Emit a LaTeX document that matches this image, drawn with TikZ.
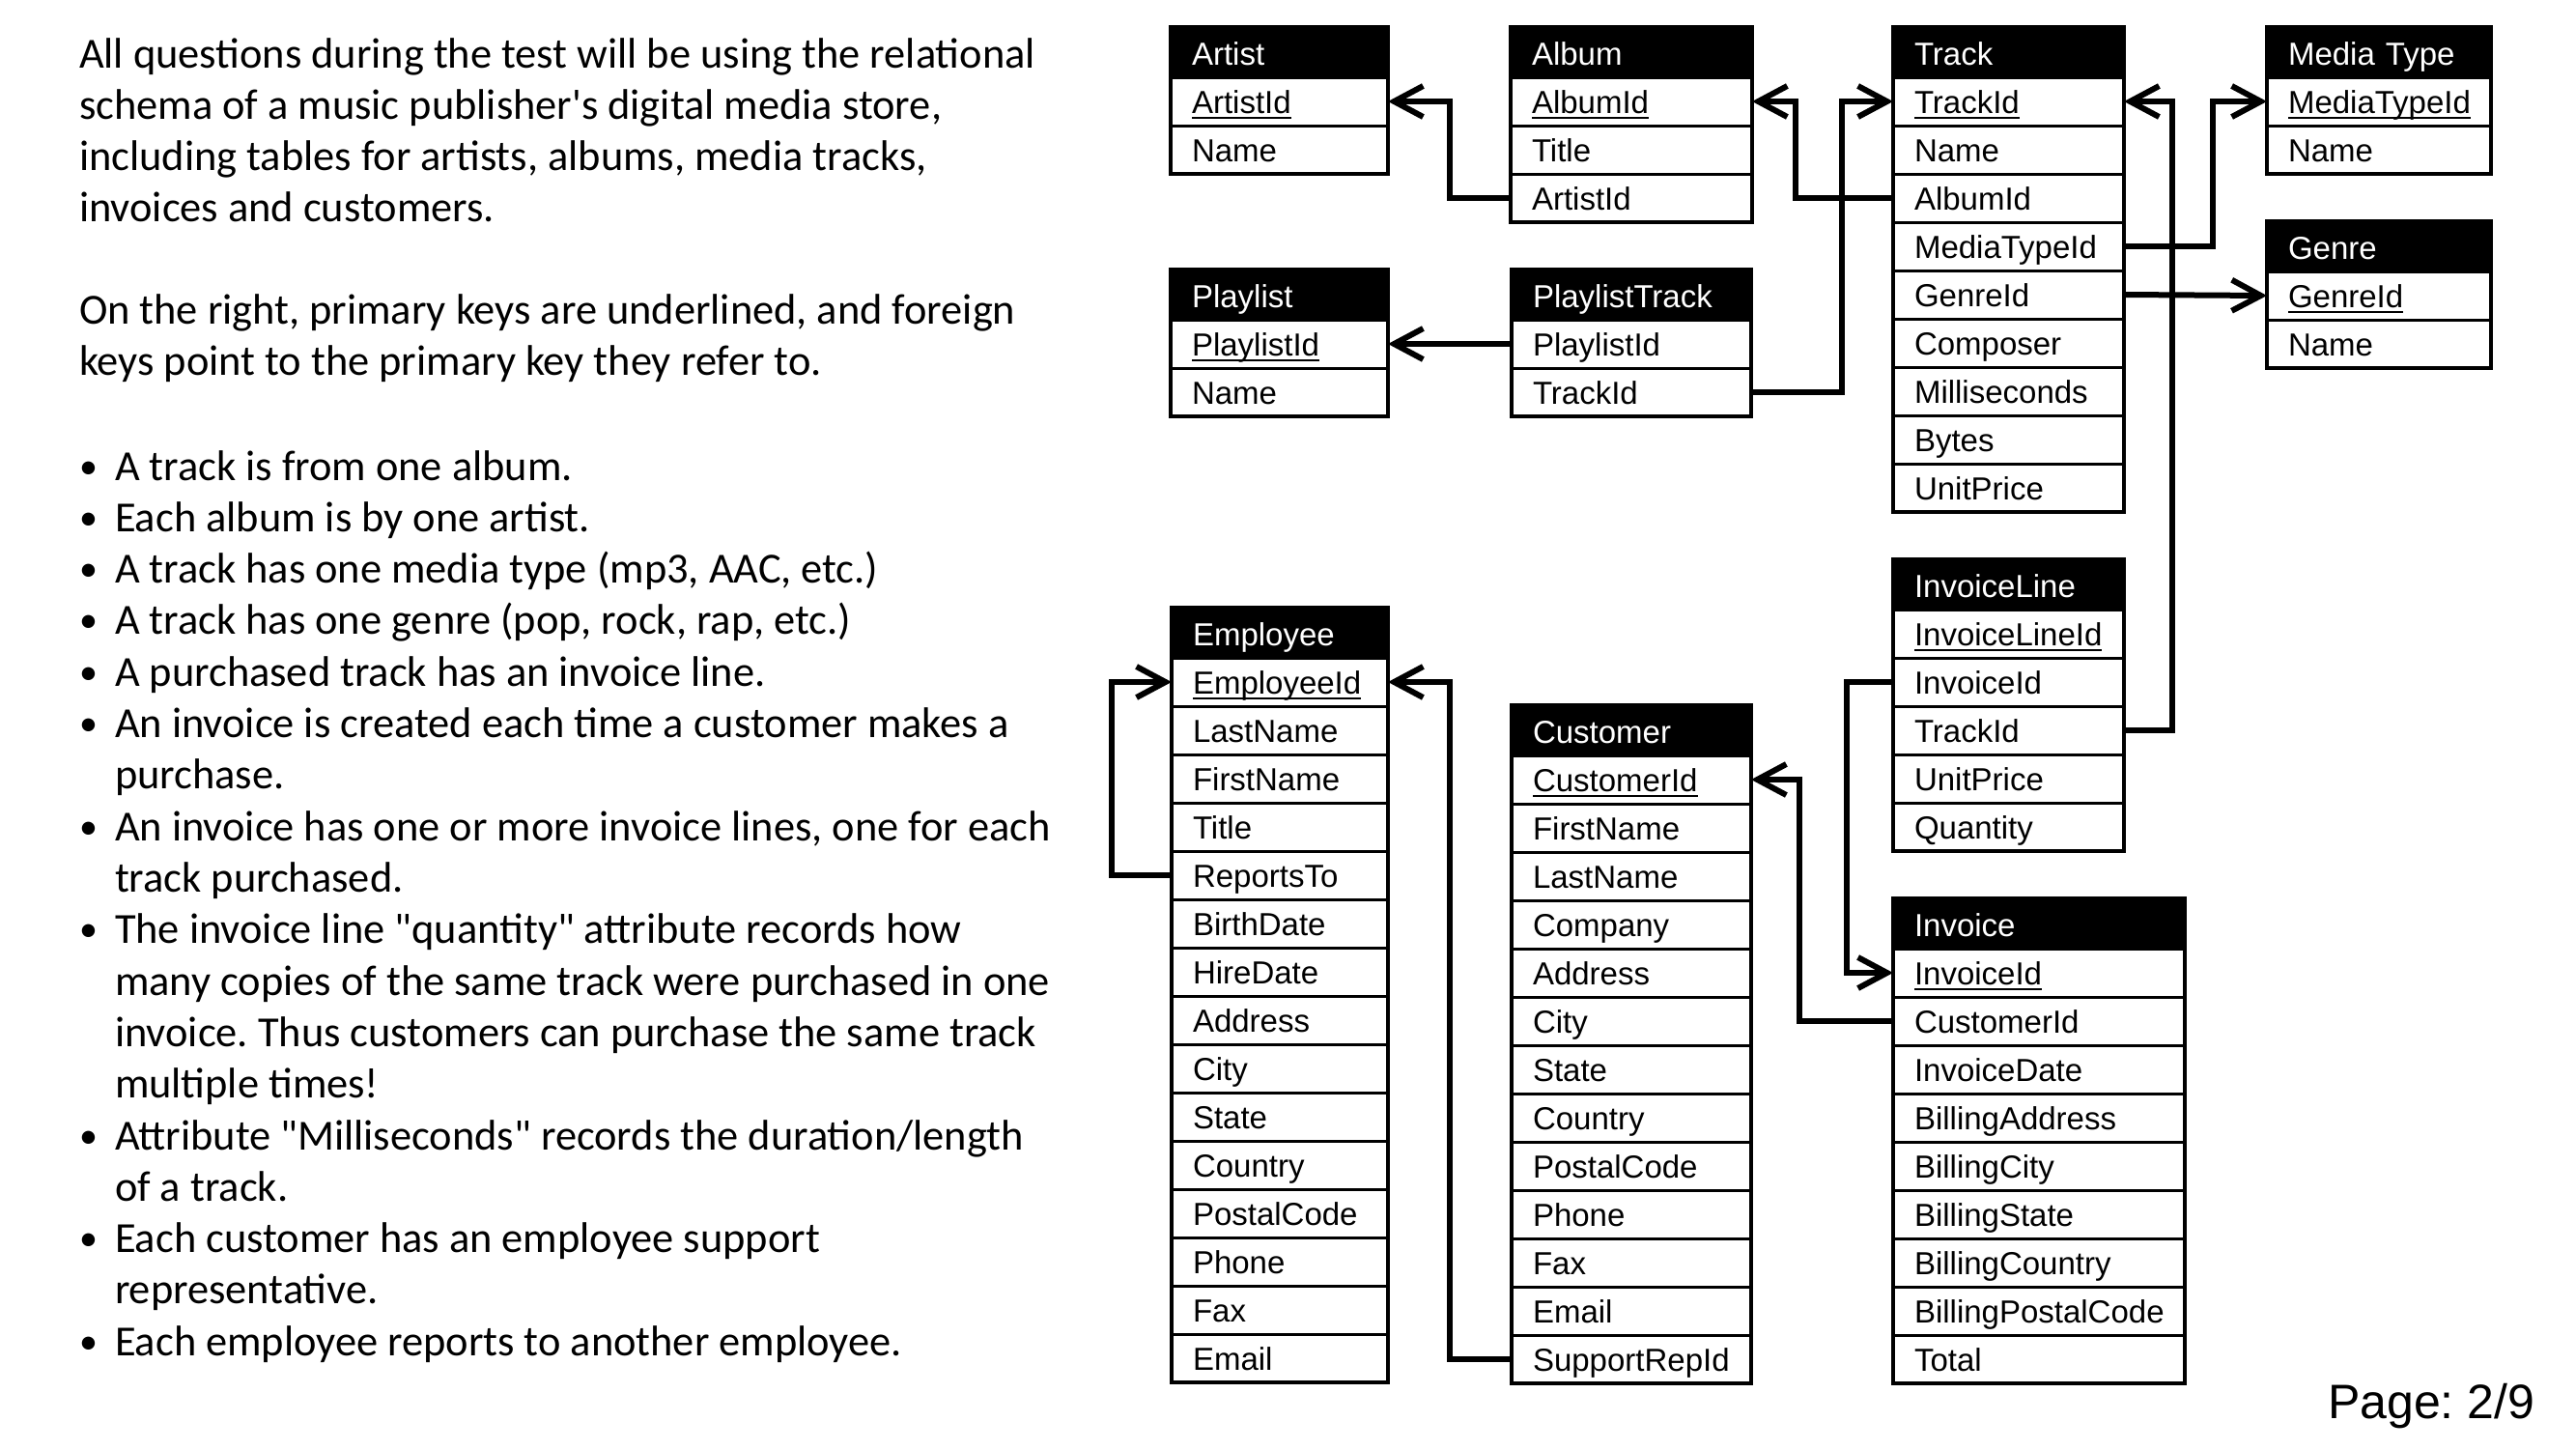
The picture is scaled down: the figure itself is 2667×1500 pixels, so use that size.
\documentclass[tikz,border=0pt]{standalone}
\usepackage{fontspec}
\usetikzlibrary{arrows.meta}
\newfontfamily\tabfont{Liberation Sans}
\newfontfamily\txtfont{Carlito}
\frenchspacing
\newcommand\pkey[1]{\setbox0\hbox{#1}\rlap{\rule[-6pt]{\wd0}{2.5pt}}\box0}
% #1 id, #2 left, #3 top, #4 width, #5 title, #6 rows, #7 row count
\newcommand\dbtable[7]{%
  \pgfmathsetmacro\tabtw{#4-44}%
  \node[hdr, text width=\tabtw pt, minimum width=#4pt, anchor=north west] (#1) at (#2,#3) {#5};
  \foreach \rowtxt [count=\i] in {#6} {
    \node[rowbox, text width=\tabtw pt, minimum width=#4pt, anchor=north west] (#1-\i) at ({#2},{#3+52+50*(\i-1)}) {\rowtxt};
  }
  \draw[tabborder] (#1.north west) rectangle (#1-#7.south east);
}
\tikzset{
  hdr/.style={draw=black, fill=black, text=white, line width=3pt, minimum height=52pt,
    inner xsep=22pt, inner ysep=0pt, outer sep=0pt, text height=31pt, text depth=5pt,
    align=left, font=\tabfont\fontsize{33}{40}\selectfont},
  rowbox/.style={draw=black, fill=white, line width=3pt, minimum height=50pt,
    inner xsep=22pt, inner ysep=0pt, outer sep=0pt, text height=30pt, text depth=6pt,
    align=left, font=\tabfont\fontsize{33}{40}\selectfont},
  tabborder/.style={draw=black, line width=3.5pt},
  fk/.style={line width=6pt, -{Straight Barb[length=30pt,width=32pt]}},
  txt/.style={anchor=base west, inner sep=0pt, outer sep=0pt,
    font=\txtfont\fontsize{44.4}{53.3}\selectfont},
  dot/.style={anchor=base west, inner sep=0pt, outer sep=0pt,
    font=\txtfont\fontsize{38}{53.3}\selectfont},
}
\begin{document}
\begin{tikzpicture}[x=1pt, y=-1pt]
\path[use as bounding box, fill=white] (0,0) rectangle (2667,1500);

% ---------- left text ----------
\node[txt] (intro) at (82,70) {\parbox[t]{1200pt}{All questions during the test will be using the relational\\schema of a music publisher's digital media store,\\including tables for artists, albums, media tracks,\\invoices and customers.}};
\node[txt] (keys) at (82,335) {\parbox[t]{1200pt}{On the right, primary keys are underlined, and foreign\\keys point to the primary key they refer to.}};

\node[dot] (d1) at (82,495) {•};
\node[txt] (b1) at (119,497) {A track is from one album.};
\node[dot] (d2) at (82,548.3) {•};
\node[txt] (b2) at (119,550.3) {Each album is by one artist.};
\node[dot] (d3) at (82,601.6) {•};
\node[txt] (b3) at (119,603.6) {A track has one media type (mp3, AAC, etc.)};
\node[dot] (d4) at (82,654.9) {•};
\node[txt] (b4) at (119,656.9) {A track has one genre (pop, rock, rap, etc.)};
\node[dot] (d5) at (82,708.2) {•};
\node[txt] (b5) at (119,710.2) {A purchased track has an invoice line.};
\node[dot] (d6) at (82,761.5) {•};
\node[txt] (b6) at (119,763.5) {\parbox[t]{1200pt}{An invoice is created each time a customer makes a\\purchase.}};
\node[dot] (d7) at (82,868.1) {•};
\node[txt] (b7) at (119,870.1) {\parbox[t]{1200pt}{An invoice has one or more invoice lines, one for each\\track purchased.}};
\node[dot] (d8) at (82,974.7) {•};
\node[txt] (b8) at (119,976.7) {\parbox[t]{1200pt}{The invoice line "quantity" attribute records how\\many copies of the same track were purchased in one\\invoice. Thus customers can purchase the same track\\multiple times!}};
\node[dot] (d9) at (82,1188) {•};
\node[txt] (b9) at (119,1190) {\parbox[t]{1200pt}{Attribute "Milliseconds" records the duration/length\\of a track.}};
\node[dot] (d10) at (82,1294.5) {•};
\node[txt] (b10) at (119,1296.5) {\parbox[t]{1200pt}{Each customer has an employee support\\representative.}};
\node[dot] (d11) at (82,1401.1) {•};
\node[txt] (b11) at (119,1403.1) {Each employee reports to another employee.};

% ---------- tables ----------
\dbtable{artist}{1212}{28}{225}{Artist}{\pkey{ArtistId},Name}{2}
\dbtable{album}{1564}{28}{250}{Album}{\pkey{AlbumId},Title,ArtistId}{3}
\dbtable{track}{1960}{28}{239}{Track}{\pkey{TrackId},Name,AlbumId,MediaTypeId,GenreId,Composer,Milliseconds,Bytes,UnitPrice}{9}
\dbtable{mediatype}{2347}{28}{232}{Media Type}{\pkey{MediaTypeId},Name}{2}
\dbtable{genre}{2347}{229}{232}{Genre}{\pkey{GenreId},Name}{2}
\dbtable{playlist}{1212}{279}{225}{Playlist}{\pkey{PlaylistId},Name}{2}
\dbtable{playlisttrack}{1565}{279}{248}{PlaylistTrack}{PlaylistId,TrackId}{2}
\dbtable{invoiceline}{1960}{579}{239}{InvoiceLine}{\pkey{InvoiceLineId},InvoiceId,TrackId,UnitPrice,Quantity}{5}
\dbtable{employee}{1213}{629}{224}{Employee}{\pkey{EmployeeId},LastName,FirstName,Title,ReportsTo,BirthDate,HireDate,Address,City,State,Country,PostalCode,Phone,Fax,Email}{15}
\dbtable{customer}{1565}{730}{248}{Customer}{\pkey{CustomerId},FirstName,LastName,Company,Address,City,State,Country,PostalCode,Phone,Fax,Email,SupportRepId}{13}
\dbtable{invoice}{1960}{930}{302}{Invoice}{\pkey{InvoiceId},CustomerId,InvoiceDate,BillingAddress,BillingCity,BillingState,BillingCountry,BillingPostalCode,Total}{9}

% ---------- foreign keys ----------
\draw[fk] (album-3.west) -- ++(-63,0) |- (artist-1.east);
\draw[fk] (track-3.west) -- ++(-101,0) |- (album-1.east);
\draw[fk] (playlisttrack-2.east) -- ++(94,0) |- (track-1.west);
\draw[fk] (playlisttrack-1.west) -- (playlist-1.east);
\draw[fk] (track-4.east) -- ++(92,0) |- (mediatype-1.west);
\draw[fk] (track-5.east) -- (genre-1.west);
\draw[fk] (invoiceline-3.east) -- ++(50,0) |- (track-1.east);
\draw[fk] (invoiceline-2.west) -- ++(-48,0) |- (invoice-1.west);
\draw[fk] (invoice-2.west) -- ++(-97,0) |- (customer-1.east);
\draw[fk] (customer-13.west) -- ++(-64,0) |- (employee-1.east);
\draw[fk] (employee-5.west) -- ++(-62,0) |- (employee-1.west);

% ---------- page number ----------
\node[anchor=base west, inner sep=0pt, font=\tabfont\fontsize{50}{60}\selectfont] (page) at (2410,1468) {Page: 2/9};
\end{tikzpicture}
\end{document}
